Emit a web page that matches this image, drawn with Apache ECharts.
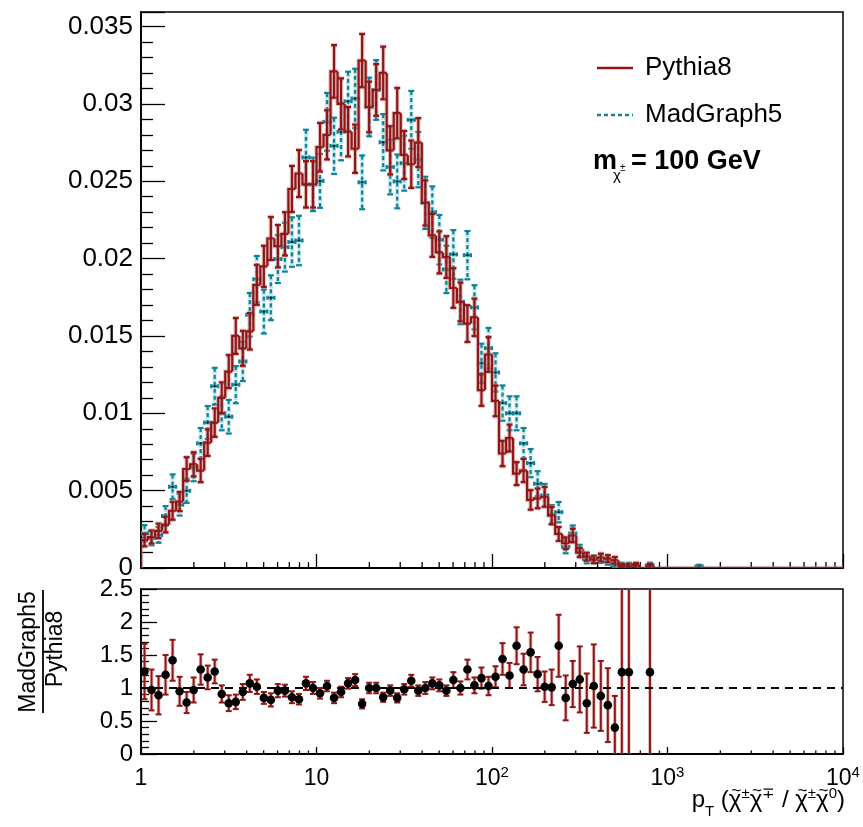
<!DOCTYPE html>
<html>
<head>
<meta charset="utf-8">
<script src="https://cdn.jsdelivr.net/npm/echarts@6/dist/echarts.min.js"></script>
<style>
  html, body { margin: 0; padding: 0; background: #fff; }
  #chart { width: 863px; height: 827px; }
</style>
</head>
<body>
<div id="chart"></div>
<script>
var FONT = '"Liberation Sans", Arial, Helvetica, sans-serif';
var RED = '#8e1616';
var RED_HALO = 'rgba(205,130,130,0.45)';
var TEAL = '#0c8498';
var TEAL_HALO = 'rgba(120,195,210,0.45)';

// histogram binning: 100 bins, equal width in log10(pT), from 1 to 1e4
var nBins = 100;
var logMin = 0, logMax = 4;

// Pythia8 bin contents and errors (bins 0..79, rest empty)
var pythia = [
  0.0018, 0.0020, 0.0024, 0.0028, 0.0037, 0.0043, 0.0064, 0.0067, 0.0063, 0.0081,
  0.0094, 0.0110, 0.0127, 0.0150, 0.0142, 0.0153, 0.0183, 0.0195, 0.0213, 0.0208,
  0.0216, 0.0245, 0.0255, 0.0248, 0.0248, 0.0272, 0.0280, 0.0321, 0.0300, 0.0282,
  0.0271, 0.0328, 0.0298, 0.0309, 0.0320, 0.0270, 0.0294, 0.0267, 0.0261, 0.0275,
  0.0236, 0.0215, 0.0204, 0.0201, 0.0181, 0.0172, 0.0158, 0.0162, 0.0115, 0.0138,
  0.0108, 0.0074, 0.0084, 0.0061, 0.0063, 0.0044, 0.0045, 0.0046, 0.0034, 0.0022,
  0.0016, 0.0021, 0.0010, 0.00073, 0.00054, 0.00068, 0.0006, 0.0005, 0.00015, 0.00015,
  0.0002, 0, 0.00015, 0, 0, 0, 0, 0, 0, 0
];
var pythiaErr = [
  0.00040, 0.00042, 0.00047, 0.00050, 0.00058, 0.00062, 0.00076, 0.00078, 0.00075, 0.00086,
  0.00092, 0.00100, 0.00107, 0.00116, 0.00113, 0.00118, 0.00129, 0.00133, 0.00139, 0.00137,
  0.00140, 0.00149, 0.00152, 0.00150, 0.00150, 0.00157, 0.00159, 0.00170, 0.00165, 0.00160,
  0.00156, 0.00172, 0.00164, 0.00167, 0.00170, 0.00156, 0.00163, 0.00155, 0.00153, 0.00158,
  0.00146, 0.00139, 0.00136, 0.00135, 0.00128, 0.00125, 0.00119, 0.00121, 0.00102, 0.00112,
  0.00099, 0.00082, 0.00087, 0.00074, 0.00075, 0.00063, 0.00064, 0.00064, 0.00055, 0.00045,
  0.00038, 0.00044, 0.00030, 0.00026, 0.00022, 0.00025, 0.00023, 0.00021, 0.00012, 0.00012,
  0.00013, 0, 0.00012, 0, 0, 0, 0, 0, 0, 0
];

// MadGraph5 bin contents and errors
var madgraph = [
  0.00225, 0.00194, 0.00214, 0.00336, 0.00525, 0.00409, 0.00499, 0.0065, 0.00806, 0.0094,
  0.01175, 0.0100, 0.00978, 0.01185, 0.01335, 0.01637, 0.01867, 0.01658, 0.01747, 0.01997,
  0.02074, 0.02107, 0.02117, 0.02654, 0.0248, 0.02502, 0.02884, 0.02729, 0.0282, 0.03017,
  0.03035, 0.02493, 0.0298, 0.0309, 0.02752, 0.02592, 0.02499, 0.02617, 0.02897, 0.0264,
  0.0236, 0.0230, 0.02122, 0.0193, 0.02027, 0.0172, 0.02022, 0.01685, 0.01323, 0.01421,
  0.01264, 0.01066, 0.0100, 0.0100, 0.00806, 0.00678, 0.00545, 0.00469, 0.00343, 0.00361,
  0.00136, 0.00223, 0.00113, 0.00056, 0.00056, 0.0006, 0.00044, 0.0002, 0.00019, 0.00019,
  0, 0, 0.00019, 0, 0, 0, 0, 0, 0, 0.0001
];
var madgraphErr = [
  0.00052, 0.00048, 0.00051, 0.00064, 0.00080, 0.00070, 0.00078, 0.00089, 0.00099, 0.00107,
  0.00119, 0.00110, 0.00109, 0.00120, 0.00127, 0.00141, 0.00150, 0.00142, 0.00145, 0.00155,
  0.00158, 0.00160, 0.00160, 0.00179, 0.00173, 0.00174, 0.00187, 0.00182, 0.00185, 0.00191,
  0.00192, 0.00174, 0.00190, 0.00193, 0.00182, 0.00177, 0.00174, 0.00178, 0.00187, 0.00179,
  0.00169, 0.00167, 0.00160, 0.00153, 0.00157, 0.00144, 0.00156, 0.00143, 0.00127, 0.00131,
  0.00124, 0.00114, 0.00110, 0.00110, 0.00099, 0.00091, 0.00081, 0.00075, 0.00064, 0.00066,
  0.00041, 0.00052, 0.00037, 0.00026, 0.00026, 0.00027, 0.00023, 0.00016, 0.00015, 0.00015,
  0, 0, 0.00015, 0, 0, 0, 0, 0, 0, 0.00011
];

// MadGraph5 / Pythia8 ratio per bin (null = empty denominator)
var ratio = [
  1.25, 0.97, 0.89, 1.20, 1.42, 0.95, 0.78, 0.97, 1.28, 1.16,
  1.25, 0.91, 0.77, 0.79, 0.94, 1.07, 1.02, 0.85, 0.82, 0.96,
  0.96, 0.86, 0.83, 1.07, 1.00, 0.92, 1.03, 0.85, 0.94, 1.07,
  1.12, 0.76, 1.00, 1.00, 0.86, 0.96, 0.85, 0.98, 1.11, 0.96,
  1.00, 1.07, 1.04, 0.96, 1.12, 1.00, 1.28, 1.04, 1.15, 1.03,
  1.17, 1.44, 1.19, 1.64, 1.28, 1.54, 1.21, 1.02, 1.01, 1.64,
  0.85, 1.06, 1.13, 0.77, 1.03, 0.88, 0.74, 0.40, 1.24, 1.24,
  null, null, 1.24
];
var ratioErr = [
  0.42, 0.31, 0.29, 0.30, 0.31, 0.22, 0.16, 0.19, 0.23, 0.18,
  0.18, 0.13, 0.12, 0.11, 0.12, 0.13, 0.11, 0.09, 0.10, 0.10,
  0.09, 0.09, 0.08, 0.10, 0.09, 0.08, 0.08, 0.08, 0.08, 0.08,
  0.09, 0.07, 0.08, 0.08, 0.07, 0.08, 0.07, 0.08, 0.09, 0.08,
  0.09, 0.09, 0.09, 0.08, 0.12, 0.10, 0.15, 0.12, 0.16, 0.14,
  0.16, 0.24, 0.19, 0.28, 0.24, 0.30, 0.26, 0.23, 0.27, 0.47,
  0.34, 0.35, 0.50, 0.45, 0.63, 0.53, 0.56, 0.48, 3.0, 3.0,
  null, null, 3.0
];

// build per-bin records
function binEdge(i) { return Math.pow(10, logMin + (logMax - logMin) * i / nBins); }

var pyData = [], mgData = [], ratioData = [];
for (var i = 0; i < nBins; i++) {
  var lo = binEdge(i), hi = binEdge(i + 1), c = Math.sqrt(lo * hi);
  var v = pythia[i] || 0;
  var prev = i > 0 ? (pythia[i - 1] || 0) : 0;
  pyData.push([lo, hi, c, v, pythiaErr[i] || 0, prev]);
  if (madgraph[i]) mgData.push([lo, hi, c, madgraph[i], madgraphErr[i] || 0]);
  if (ratio[i] != null) ratioData.push([c, ratio[i], ratioErr[i]]);
}

// minor log ticks 2..9 x 10^k
var minorTicks = [];
for (var k = 0; k < 4; k++) {
  for (var m = 2; m <= 9; m++) minorTicks.push(m * Math.pow(10, k));
}

function clampY(y, cs) {
  return Math.max(cs.y, Math.min(cs.y + cs.height, y));
}

function seg(x1, y1, x2, y2, style) {
  return { type: 'line', shape: { x1: x1, y1: y1, x2: x2, y2: y2 }, style: style };
}

function renderPythia(params, api) {
  var lo = api.value(0), hi = api.value(1), c = api.value(2);
  var v = api.value(3), e = api.value(4), prev = api.value(5);
  var a = api.coord([lo, prev]), b = api.coord([lo, v]), d = api.coord([hi, v]);
  var halo = { stroke: RED_HALO, lineWidth: 4.4, fill: null };
  var st = { stroke: RED, lineWidth: 2.2, fill: null };
  var lines = [[a, b, d]];
  if (v > 0 && e > 0) {
    var t = api.coord([c, v + e]), bt = api.coord([c, v - e]);
    lines.push([t, bt]);
    lines.push([[t[0] - 3, t[1]], [t[0] + 3, t[1]]]);
    lines.push([[bt[0] - 3, bt[1]], [bt[0] + 3, bt[1]]]);
  }
  var kids = [];
  lines.forEach(function (pts) { kids.push({ type: 'polyline', shape: { points: pts }, style: halo }); });
  lines.forEach(function (pts) { kids.push({ type: 'polyline', shape: { points: pts }, style: st }); });
  return { type: 'group', children: kids };
}

function renderMadgraph(params, api) {
  var lo = api.value(0), hi = api.value(1), c = api.value(2);
  var v = api.value(3), e = api.value(4);
  var l = api.coord([lo, v]), r = api.coord([hi, v]);
  var t = api.coord([c, v + e]), bt = api.coord([c, Math.max(v - e, 0)]);
  var solid = { stroke: TEAL, lineWidth: 2.2 };
  var dashed = { stroke: TEAL, lineWidth: 2.2, lineDash: [4, 3] };
  var halo = { stroke: TEAL_HALO, lineWidth: 4.2, lineDash: [6, 1] };
  return {
    type: 'group',
    children: [
      seg(t[0], t[1], bt[0], bt[1], halo),
      seg(l[0], l[1], r[0], r[1], { stroke: TEAL_HALO, lineWidth: 4.2 }),
      seg(t[0], t[1], bt[0], bt[1], dashed),
      seg(t[0] - 3, t[1], t[0] + 3, t[1], solid),
      seg(bt[0] - 3, bt[1], bt[0] + 3, bt[1], solid),
      seg(l[0], l[1], r[0], r[1], solid),
      seg(l[0], l[1] - 2, l[0], l[1] + 2, solid),
      seg(r[0], r[1] - 2, r[0], r[1] + 2, solid),
      { type: 'circle', shape: { cx: l[0] + (r[0] - l[0]) / 2, cy: l[1], r: 1 }, style: { fill: '#000' } }
    ]
  };
}

function renderRatio(params, api) {
  var cs = params.coordSys;
  var c = api.value(0), v = api.value(1), e = api.value(2);
  var p = api.coord([c, v]);
  var tRaw = api.coord([c, v + e])[1], bRaw = api.coord([c, v - e])[1];
  var t = clampY(tRaw, cs), b = clampY(bRaw, cs);
  var st = { stroke: RED, lineWidth: 2 };
  var kids = [seg(p[0], t, p[0], b, { stroke: RED_HALO, lineWidth: 3.8 }), seg(p[0], t, p[0], b, st)];
  if (t === tRaw) kids.push(seg(p[0] - 3, t, p[0] + 3, t, st));
  if (b === bRaw) kids.push(seg(p[0] - 3, b, p[0] + 3, b, st));
  kids.push({ type: 'circle', shape: { cx: p[0], cy: p[1], r: 4.3 }, style: { fill: '#000' } });
  return { type: 'group', children: kids };
}

function minorRenderer(len) {
  return function (params, api) {
    var p = api.coord([api.value(0), 0]);
    return seg(p[0], p[1], p[0], p[1] - len, { stroke: '#000', lineWidth: 1.3 });
  };
}

function xLabel(v) {
  var e = Math.round(Math.log(v) / Math.LN10);
  if (e === 0) return '{b|1}';
  if (e === 1) return '{b|10}';
  return '{b|10}{s|' + e + '}';
}

function yLabel(v) { return String(+v.toFixed(4)); }

// x-axis title p_T (chi~+- chi~-+ / chi~+- chi~0), laid out piece by piece
function buildXTitle(rightX, baseY) {
  var ctx = document.createElement('canvas').getContext('2d');
  var pieces = [
    { t: 'p', s: 24, dy: 0 },
    { t: 'T', s: 15, dy: 7 },
    { t: ' (', s: 24, dy: 0 },
    { t: 'χ', s: 24, dy: 0, tilde: true },
    { t: '±', s: 15, dy: -11 },
    { t: 'χ', s: 24, dy: 0, tilde: true },
    { t: '∓', s: 15, dy: -11 },
    { t: ' / ', s: 24, dy: 0 },
    { t: 'χ', s: 24, dy: 0, tilde: true },
    { t: '±', s: 15, dy: -11 },
    { t: 'χ', s: 24, dy: 0, tilde: true },
    { t: '0', s: 15, dy: -11 },
    { t: ')', s: 24, dy: 0 }
  ];
  var total = 0;
  pieces.forEach(function (p) {
    ctx.font = p.s + 'px ' + FONT;
    p.w = ctx.measureText(p.t).width;
    total += p.w;
  });
  var x = rightX - total, out = [];
  pieces.forEach(function (p) {
    out.push({
      type: 'text', x: x, y: baseY + p.dy,
      style: { text: p.t, font: p.s + 'px ' + FONT, fill: '#000', verticalAlign: 'bottom' }
    });
    if (p.tilde) {
      out.push({
        type: 'text', x: x + p.w / 2 + 1, y: baseY - 12,
        style: { text: '~', font: '17px ' + FONT, fill: '#000', align: 'center', verticalAlign: 'bottom' }
      });
    }
    x += p.w;
  });
  return out;
}

var axisLineStyle = { color: '#000', width: 1.8 };

var graphics = [
  // legend
  { type: 'line', shape: { x1: 597, y1: 68, x2: 633, y2: 68 }, style: { stroke: RED, lineWidth: 2.4 } },
  { type: 'text', x: 645, y: 68, style: { text: 'Pythia8', font: '26px ' + FONT, fill: '#000', verticalAlign: 'middle' } },
  { type: 'line', shape: { x1: 597, y1: 115, x2: 633, y2: 115 }, style: { stroke: TEAL, lineWidth: 2.3, lineDash: [4, 3] } },
  { type: 'text', x: 645, y: 115, style: { text: 'MadGraph5', font: '26px ' + FONT, fill: '#000', verticalAlign: 'middle' } },
  { type: 'text', x: 593, y: 162, style: { text: 'm', font: 'bold 27px ' + FONT, fill: '#000', verticalAlign: 'middle' } },
  { type: 'text', x: 613, y: 176, style: { text: 'χ', font: '15px ' + FONT, fill: '#000', verticalAlign: 'middle' } },
  { type: 'text', x: 620, y: 168, style: { text: '±', font: '10px ' + FONT, fill: '#000', verticalAlign: 'middle' } },
  { type: 'text', x: 631, y: 162, style: { text: '= 100 GeV', font: 'bold 27px ' + FONT, fill: '#000', verticalAlign: 'middle' } },
  // ratio y title as a fraction
  { type: 'text', x: 29, y: 652, rotation: Math.PI / 2, style: { text: 'MadGraph5', font: '23px ' + FONT, fill: '#000', align: 'center', verticalAlign: 'middle' } },
  { type: 'line', shape: { x1: 43, y1: 590, x2: 43, y2: 713 }, style: { stroke: '#000', lineWidth: 1.8 } },
  { type: 'text', x: 56, y: 649, rotation: Math.PI / 2, style: { text: 'Pythia8', font: '23px ' + FONT, fill: '#000', align: 'center', verticalAlign: 'middle' } }
].concat(buildXTitle(845, 812));

var chart = echarts.init(document.getElementById('chart'), null, { renderer: 'canvas' });
chart.setOption({
  animation: false,
  backgroundColor: '#fff',
  textStyle: { fontFamily: FONT },
  grid: [
    { left: 141, top: 12, width: 702, height: 556, show: true, borderColor: '#000', borderWidth: 1.5 },
    { left: 141, top: 589, width: 702, height: 165, show: true, borderColor: '#000', borderWidth: 1.5 }
  ],
  xAxis: [
    {
      type: 'log', logBase: 10, min: 1, max: 10000, gridIndex: 0,
      axisLine: { lineStyle: axisLineStyle },
      axisTick: { inside: true, length: 14, lineStyle: { color: '#000', width: 1.3 } },
      axisLabel: { show: false }, splitLine: { show: false }
    },
    {
      type: 'log', logBase: 10, min: 1, max: 10000, gridIndex: 1,
      axisLine: { lineStyle: axisLineStyle },
      axisTick: { inside: true, length: 7, lineStyle: { color: '#000', width: 1.3 } },
      axisLabel: {
        margin: 11, color: '#000', formatter: xLabel,
        rich: {
          b: { fontSize: 23, fontFamily: FONT, color: '#000', lineHeight: 28 },
          s: { fontSize: 15, fontFamily: FONT, color: '#000', verticalAlign: 'top', lineHeight: 14 }
        }
      },
      splitLine: { show: false }
    }
  ],
  yAxis: [
    {
      type: 'value', min: 0, max: 0.03594, interval: 0.005, gridIndex: 0,
      axisLine: { show: true, lineStyle: axisLineStyle },
      axisTick: { inside: true, length: 24, lineStyle: { color: '#000', width: 1.3 } },
      minorTick: { show: true, splitNumber: 5, length: 12, lineStyle: { color: '#000', width: 1.3 } },
      axisLabel: { showMaxLabel: false, margin: 8, fontSize: 26, color: '#000', fontFamily: FONT, formatter: yLabel },
      splitLine: { show: false }
    },
    {
      type: 'value', min: 0, max: 2.5, interval: 0.5, gridIndex: 1,
      axisLine: { show: true, lineStyle: axisLineStyle },
      axisTick: { inside: true, length: 16, lineStyle: { color: '#000', width: 1.3 } },
      minorTick: { show: true, splitNumber: 5, length: 8, lineStyle: { color: '#000', width: 1.3 } },
      axisLabel: { margin: 8, fontSize: 24, color: '#000', fontFamily: FONT, formatter: yLabel },
      splitLine: { show: false }
    }
  ],
  series: [
    {
      type: 'custom', name: 'minor-top', xAxisIndex: 0, yAxisIndex: 0,
      data: minorTicks, renderItem: minorRenderer(6), silent: true
    },
    {
      type: 'custom', name: 'minor-bottom', xAxisIndex: 1, yAxisIndex: 1,
      data: minorTicks, renderItem: minorRenderer(3.5), silent: true
    },
    {
      type: 'custom', name: 'MadGraph5', xAxisIndex: 0, yAxisIndex: 0, clip: true,
      data: mgData, renderItem: renderMadgraph, encode: { x: 2, y: 3 }, z: 3
    },
    {
      type: 'custom', name: 'Pythia8', xAxisIndex: 0, yAxisIndex: 0, clip: true,
      data: pyData, renderItem: renderPythia, encode: { x: 2, y: 3 }, z: 4
    },
    {
      type: 'custom', name: 'ratio', xAxisIndex: 1, yAxisIndex: 1, clip: true,
      data: ratioData, renderItem: renderRatio, encode: { x: 0, y: 1 }, z: 4,
      markLine: {
        silent: true, symbol: 'none', label: { show: false },
        lineStyle: { color: '#000', width: 2, type: [8, 6] },
        data: [{ yAxis: 1 }]
      }
    }
  ],
  graphic: graphics
});
</script>
</body>
</html>
